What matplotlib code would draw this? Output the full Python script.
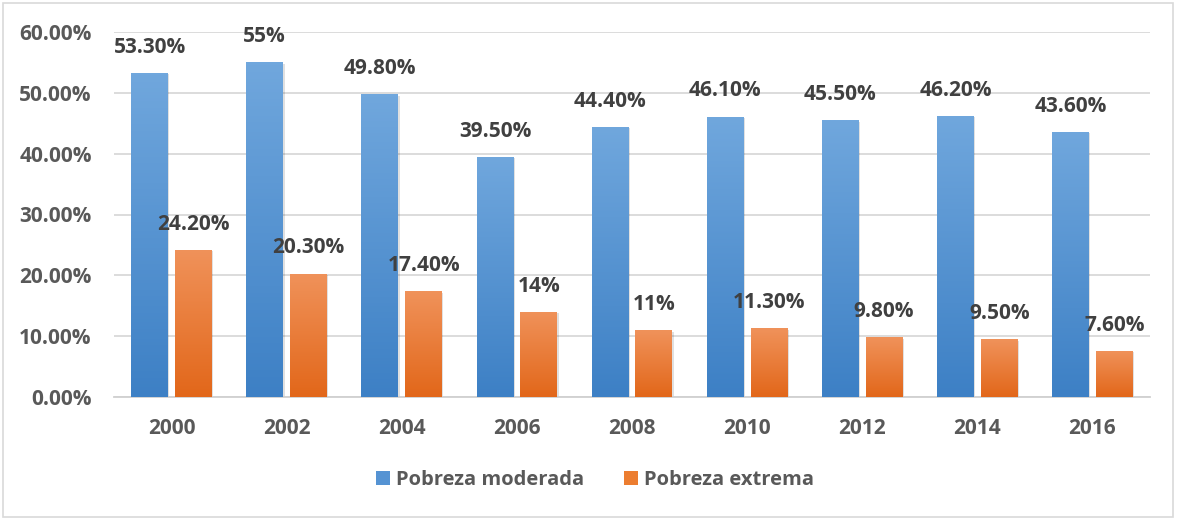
import numpy as np
import matplotlib
matplotlib.use('Agg')
import matplotlib.pyplot as plt
from matplotlib.colors import LinearSegmentedColormap
from matplotlib.patches import Rectangle, Patch

# datos
years = ['2000', '2002', '2004', '2006', '2008', '2010', '2012', '2014', '2016']
moderada = [53.3, 55.0, 49.8, 39.5, 44.4, 46.1, 45.5, 46.2, 43.6]
extrema = [24.2, 20.3, 17.4, 14.0, 11.0, 11.3, 9.8, 9.5, 7.6]
lab_moderada = ['53.30%', '55%', '49.80%', '39.50%', '44.40%', '46.10%', '45.50%', '46.20%', '43.60%']
lab_extrema = ['24.20%', '20.30%', '17.40%', '14%', '11%', '11.30%', '9.80%', '9.50%', '7.60%']

plt.rcParams['font.family'] = ['Open Sans', 'DejaVu Sans']
plt.rcParams['font.weight'] = 'bold'

W, H = 1178, 519
fig = plt.figure(figsize=(W / 100, H / 100), dpi=100)
ax = fig.add_axes([114 / W, 1 - 397 / H, (1150 - 114) / W, (397 - 32) / H])

x = np.arange(len(years))
bw = 0.32
off = 0.19

blue_cmap = LinearSegmentedColormap.from_list('b', ['#3d80c5', '#70a7dd'])
orange_cmap = LinearSegmentedColormap.from_list('o', ['#e2671a', '#f0925a'])

b1 = ax.bar(x - off, moderada, bw, color='#5593d3', zorder=3)
b2 = ax.bar(x + off, extrema, bw, color='#ec7d30', zorder=3)

grad = np.linspace(0, 1, 100).reshape(-1, 1)
for bars, cm in [(b1, blue_cmap), (b2, orange_cmap)]:
    for p in bars:
        x0, y0 = p.get_x(), p.get_y()
        w, h = p.get_width(), p.get_height()
        # sombra suave
        ax.add_patch(Rectangle((x0 + 0.012, y0 - 0.25), w, h, color='#000000',
                               alpha=0.12, zorder=2, lw=0))
        im = ax.imshow(grad, cmap=cm, origin='lower', aspect='auto',
                       extent=(x0, x0 + w, y0, y0 + h), zorder=4)
        im.set_clip_path(p)

for bars, labs in [(b1, lab_moderada), (b2, lab_extrema)]:
    for p, t in zip(bars, labs):
        ax.annotate(t, (p.get_x() + p.get_width() / 2, p.get_height()),
                    xytext=(0, 18.5), textcoords='offset points',
                    ha='center', va='center', fontsize=15, fontweight='bold',
                    color='#404040', zorder=5)

ax.set_xlim(-0.5, len(years) - 0.5)
ax.set_ylim(0, 60)
ax.set_yticks(np.arange(0, 61, 10))
ax.set_yticklabels([f'{v:.2f}%' for v in np.arange(0, 61, 10)])
ax.set_xticks(x)
ax.set_xticklabels(years)
ax.tick_params(axis='both', length=0, labelsize=15, labelcolor='#595959')
ax.tick_params(axis='y', pad=16)
ax.tick_params(axis='x', pad=15)
ax.grid(axis='y', color='#d9d9d9', lw=1.3, zorder=0)
for s in ['top', 'right', 'left']:
    ax.spines[s].set_visible(False)
ax.spines['bottom'].set_color('#d0d0d0')
ax.spines['bottom'].set_linewidth(1.3)

handles = [Patch(facecolor='#5593d3', label='Pobreza moderada'),
           Patch(facecolor='#ec7d30', label='Pobreza extrema')]
leg = fig.legend(handles=handles, loc='center', bbox_to_anchor=(595 / W, 1 - 480 / H),
                 ncol=2, frameon=False, fontsize=14.5, handlelength=0.7, handleheight=0.7,
                 handletextpad=0.3, columnspacing=2.0)
for t in leg.get_texts():
    t.set_color('#595959')

fig.patches.append(Rectangle((3 / W, 2 / H), 1170 / W, 514 / H, transform=fig.transFigure,
                             fill=False, edgecolor='#d9d9d9', lw=1.2))

fig.savefig('out.png', dpi=100)
